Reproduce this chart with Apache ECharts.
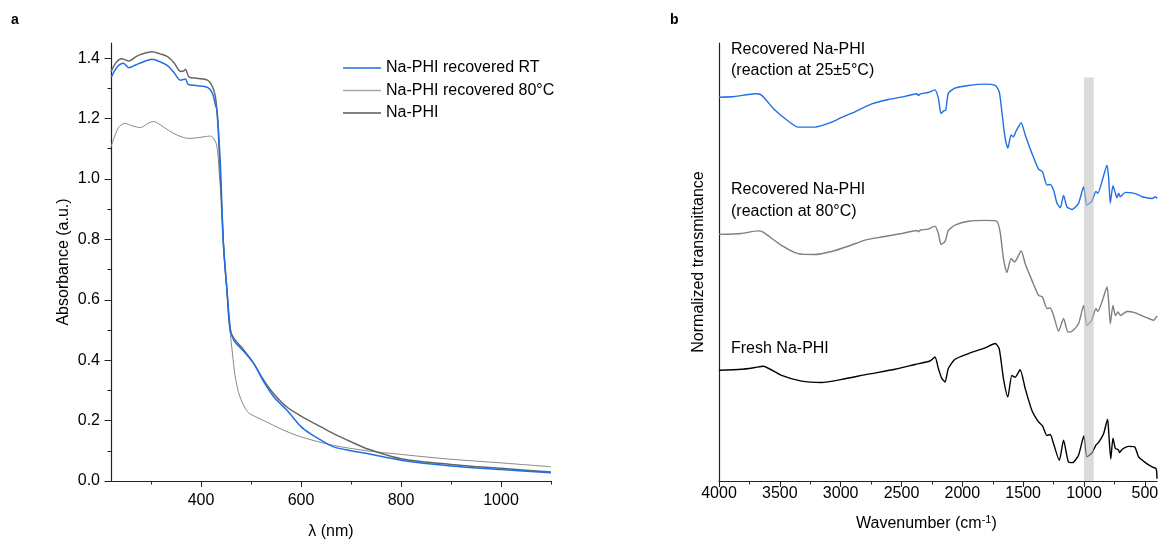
<!DOCTYPE html>
<html>
<head>
<meta charset="utf-8">
<script src="https://cdn.jsdelivr.net/npm/echarts@6/dist/echarts.min.js"></script>
<style>html,body{margin:0;padding:0;background:#fff;}#c{width:1162px;height:540px;}</style>
</head>
<body>
<div id="c"></div>
<script>
// ---------- Panel a: UV-vis absorbance [wavelength nm, absorbance] ----------
const uvRT = [[220,1.335],[232,1.37],[245,1.383],[256,1.368],[270,1.378],[285,1.388],[302,1.396],[318,1.388],[333,1.375],[346,1.352],[359,1.327],[369,1.331],[374,1.313],[390,1.309],[413,1.303],[423,1.283],[429,1.244],[432,1.228],[436,1.13],[439,1.04],[445,0.78],[452,0.63],[459,0.5],[466,0.465],[485,0.43],[505,0.39],[525,0.33],[545,0.28],[572,0.234],[600,0.18],[620,0.155],[640,0.135],[665,0.113],[700,0.10],[732,0.091],[800,0.069],[900,0.05],[1000,0.038],[1100,0.027]];
const uv80 = [[220,1.106],[235,1.17],[248,1.184],[262,1.176],[279,1.17],[293,1.183],[305,1.19],[325,1.172],[345,1.151],[360,1.14],[375,1.134],[392,1.136],[408,1.14],[419,1.142],[429,1.123],[433,1.095],[437,1.01],[441,0.93],[446,0.76],[452,0.62],[458,0.50],[463,0.42],[468,0.35],[474,0.30],[480,0.27],[487,0.245],[495,0.226],[510,0.212],[532,0.195],[560,0.172],[600,0.146],[665,0.118],[732,0.10],[800,0.088],[900,0.072],[1000,0.06],[1100,0.047]];
const uvFresh = [[220,1.355],[230,1.385],[241,1.398],[256,1.39],[270,1.405],[285,1.415],[302,1.421],[318,1.414],[333,1.405],[346,1.385],[359,1.356],[366,1.358],[369,1.363],[376,1.338],[392,1.333],[413,1.327],[423,1.305],[429,1.27],[433,1.2],[436,1.11],[440,0.95],[445,0.78],[452,0.63],[458,0.5],[466,0.472],[485,0.435],[505,0.39],[525,0.335],[545,0.29],[572,0.245],[600,0.215],[640,0.179],[665,0.157],[700,0.130],[732,0.107],[800,0.074],[900,0.055],[1000,0.042],[1100,0.03]];

// ---------- Panel b: FTIR normalized transmittance (offset) [wavenumber, value] ----------
const irRT = [[4000,87.6],[3870,87.8],[3706,88.4],[3651,88.1],[3541,84.7],[3432,82.2],[3350,80.8],[3212,80.8],[3075,81.9],[2992,83.0],[2883,84.3],[2745,86.1],[2609,87.1],[2471,87.8],[2375,88.4],[2360,88.0],[2345,88.4],[2280,88.7],[2225,89.3],[2197,87.4],[2175,83.9],[2153,84.5],[2136,84.7],[2115,88.5],[2060,89.7],[1950,90.3],[1813,90.6],[1730,90.3],[1697,88.9],[1675,84.3],[1648,78.2],[1626,76.0],[1599,79.0],[1580,78.6],[1560,79.8],[1516,81.8],[1483,79.0],[1428,74.8],[1374,71.2],[1341,70.6],[1305,67.6],[1278,67.7],[1250,66.4],[1222,63.4],[1195,62.4],[1168,65.2],[1140,62.6],[1099,62.0],[1045,63.4],[1003,67.2],[976,63.0],[935,63.9],[902,66.1],[886,65.7],[852,68.4],[811,72.1],[797,69.1],[784,63.4],[762,67.4],[742,65.7],[729,64.7],[715,65.7],[701,64.9],[660,65.9],[578,65.6],[523,64.9],[440,64.5],[413,64.9],[400,64.5]];
const ir80 = [[4000,56.3],[3818,56.5],[3679,57.1],[3638,56.8],[3486,53.8],[3350,51.9],[3212,51.7],[3075,52.4],[2938,53.6],[2800,55.0],[2663,55.7],[2498,56.5],[2375,57.2],[2360,56.9],[2345,57.3],[2280,57.5],[2225,58.2],[2197,56.5],[2175,54.0],[2142,54.7],[2115,57.2],[2060,58.4],[1950,59.3],[1813,59.5],[1717,59.3],[1689,56.8],[1662,50.8],[1634,47.6],[1599,50.8],[1571,50.0],[1516,52.5],[1483,49.6],[1428,45.8],[1374,42.4],[1341,42.0],[1305,39.4],[1278,39.5],[1250,37.8],[1209,34.2],[1168,37.1],[1132,34.0],[1099,34.2],[1045,35.9],[1003,40.1],[976,35.5],[935,36.8],[902,39.4],[886,38.7],[852,40.9],[811,44.3],[797,40.9],[784,35.9],[762,40.1],[742,37.8],[720,38.6],[701,37.8],[646,38.7],[578,38.4],[496,37.4],[427,36.7],[400,37.7]];
const irFresh = [[4000,25.3],[3818,25.5],[3706,25.9],[3638,26.2],[3486,24.1],[3322,22.8],[3157,22.5],[2992,23.2],[2773,24.4],[2554,25.5],[2389,26.6],[2266,27.4],[2225,28.3],[2197,25.7],[2170,23.5],[2142,22.6],[2115,25.7],[2060,27.8],[1950,29.1],[1813,30.4],[1730,31.4],[1697,30.2],[1662,23.4],[1626,19.2],[1593,24.1],[1566,23.7],[1525,25.4],[1483,21.1],[1428,16.1],[1374,13.5],[1341,12.6],[1305,10.4],[1278,10.6],[1250,8.5],[1203,4.7],[1168,9.3],[1127,4.3],[1094,4.2],[1045,5.9],[1001,10.3],[976,5.5],[935,6.4],[902,8.2],[880,8.8],[839,10.8],[806,14.1],[797,11.2],[780,5.0],[762,9.8],[742,7.4],[720,7.2],[707,6.5],[688,7.2],[633,7.9],[584,7.8],[551,5.5],[496,4.2],[440,3.2],[407,2.8],[400,0.5]];
const bandRange = [1000, 920];
const bandTop = 92.1;

// ---------- ticks ----------
const aXMajor = [400, 600, 800, 1000];
const aXMinor = [300, 500, 700, 900, 1100];
const aYMajor = [0, 0.2, 0.4, 0.6, 0.8, 1.0, 1.2, 1.4];
const aYMinor = [0.1, 0.3, 0.5, 0.7, 0.9, 1.1, 1.3];
const bXMajor = [4000, 3500, 3000, 2500, 2000, 1500, 1000, 500];
const bXMinor = [3750, 3250, 2750, 2250, 1750, 1250, 750];

const names = ['Na-PHI recovered RT', 'Na-PHI recovered 80\u00B0C', 'Na-PHI'];
const FONT = '"Liberation Sans", Arial, sans-serif';
const AX = '#222';

const chart = echarts.init(document.getElementById('c'), null, {renderer: 'canvas'});

function xAx(grid, min, max, inverse, major, minor, isMajor, name, nameGap, margin) {
  return {
    type: 'value', gridIndex: grid, min: min, max: max, inverse: inverse,
    position: 'bottom',
    name: isMajor ? name : '', nameLocation: 'middle', nameGap: nameGap,
    nameTextStyle: {fontFamily: FONT, fontSize: 16, color: '#000'},
    axisLine: {show: isMajor, lineStyle: {color: AX, width: 1.2}},
    axisTick: {show: true, inside: false, length: isMajor ? 6 : 3.5, customValues: isMajor ? major : minor, lineStyle: {color: AX, width: 1}},
    axisLabel: {show: isMajor, customValues: major, margin: margin, fontFamily: FONT, fontSize: 16, color: '#000', formatter: v => String(v)},
    splitLine: {show: false}
  };
}

const option = {
  animation: false,
  backgroundColor: '#fff',
  grid: [
    {left: 111, top: 43, width: 440, height: 438, containLabel: false, outerBoundsMode: 'none'},
    {left: 719, top: 43, width: 438, height: 438, containLabel: false, outerBoundsMode: 'none'}
  ],
  xAxis: [
    xAx(0, 220, 1100, false, aXMajor, aXMinor, true, '\u03BB (nm)', 43, 12),
    xAx(0, 220, 1100, false, aXMajor, aXMinor, false, '', 0, 0),
    xAx(1, 400, 4000, true, bXMajor, bXMinor, true, '', 0, 5),
    xAx(1, 400, 4000, true, bXMajor, bXMinor, false, '', 0, 0)
  ],
  yAxis: [
    {
      type: 'value', gridIndex: 0, min: 0, max: 1.45, position: 'left',
      name: 'Absorbance (a.u.)', nameLocation: 'middle', nameGap: 39,
      nameTextStyle: {fontFamily: FONT, fontSize: 16, color: '#000'},
      axisLine: {show: true, lineStyle: {color: AX, width: 1.2}},
      axisTick: {show: true, length: 6.5, customValues: aYMajor, lineStyle: {color: AX}},
      axisLabel: {customValues: aYMajor, margin: 11, fontFamily: FONT, fontSize: 16, color: '#000', formatter: v => v.toFixed(1)},
      splitLine: {show: false}
    },
    {
      type: 'value', gridIndex: 0, min: 0, max: 1.45, position: 'left',
      axisLine: {show: false},
      axisTick: {show: true, length: 3.5, customValues: aYMinor, lineStyle: {color: AX}},
      axisLabel: {show: false},
      splitLine: {show: false}
    },
    {
      type: 'value', gridIndex: 1, min: 0, max: 100, position: 'left',
      name: 'Normalized transmittance', nameLocation: 'middle', nameGap: 12,
      nameTextStyle: {fontFamily: FONT, fontSize: 16, color: '#000'},
      axisLine: {show: true, lineStyle: {color: AX, width: 1.2}},
      axisTick: {show: false}, axisLabel: {show: false}, splitLine: {show: false}
    }
  ],
  legend: {
    left: 338, top: 55, orient: 'vertical', itemWidth: 38, itemHeight: 1.6, itemGap: 6.5,
    icon: 'rect',
    data: names,
    textStyle: {fontFamily: FONT, fontSize: 16, color: '#000'}
  },
  graphic: [
    {type: 'text', left: 11, top: 13, style: {text: 'a', font: 'bold 14px ' + FONT, fill: '#000'}},
    {type: 'text', left: 670, top: 13, style: {text: 'b', font: 'bold 14px ' + FONT, fill: '#000'}},
    {type: 'text', left: 731, top: 42, style: {text: 'Recovered Na-PHI', font: '16px ' + FONT, fill: '#000'}},
    {type: 'text', left: 731, top: 63, style: {text: '(reaction at 25\u00B15\u00B0C)', font: '16px ' + FONT, fill: '#000'}},
    {type: 'text', left: 731, top: 182, style: {text: 'Recovered Na-PHI', font: '16px ' + FONT, fill: '#000'}},
    {type: 'text', left: 731, top: 204, style: {text: '(reaction at 80\u00B0C)', font: '16px ' + FONT, fill: '#000'}},
    {type: 'text', left: 731, top: 341, style: {text: 'Fresh Na-PHI', font: '16px ' + FONT, fill: '#000'}},
    {type: 'text', left: 856, top: 514, style: {
      text: '{n|Wavenumber (cm}{s|-1}{n|)}',
      rich: {n: {fontFamily: FONT, fontSize: 16, fill: '#000'}, s: {fontFamily: FONT, fontSize: 11, fill: '#000', verticalAlign: 'top', padding: [0,0,8,0]}}
    }}
  ],
  series: [
    {name: names[1], type: 'line', xAxisIndex: 0, yAxisIndex: 0, data: uv80, symbol: 'none', smooth: 0.3,
      lineStyle: {color: '#8a8a8a', width: 1}, itemStyle: {color: '#a8a8a8'}},
    {name: names[2], type: 'line', xAxisIndex: 0, yAxisIndex: 0, data: uvFresh, symbol: 'none', smooth: 0.3,
      lineStyle: {color: '#666666', width: 1.5}, itemStyle: {color: '#595959'}},
    {name: names[0], type: 'line', xAxisIndex: 0, yAxisIndex: 0, data: uvRT, symbol: 'none', smooth: 0.3,
      lineStyle: {color: '#1f6fe5', width: 1.5}, itemStyle: {color: '#1f6fe5'}},
    {type: 'line', xAxisIndex: 2, yAxisIndex: 2, data: irRT, symbol: 'none', smooth: 0.2,
      lineStyle: {color: '#1f6fe5', width: 1.4}},
    {type: 'line', xAxisIndex: 2, yAxisIndex: 2, data: ir80, symbol: 'none', smooth: 0.2,
      lineStyle: {color: '#7f7f7f', width: 1.4}},
    {type: 'line', xAxisIndex: 2, yAxisIndex: 2, data: irFresh, symbol: 'none', smooth: 0.2,
      lineStyle: {color: '#000000', width: 1.4}},
    {type: 'line', xAxisIndex: 2, yAxisIndex: 2, data: [], z: 10,
      markArea: {silent: true, z: 10, itemStyle: {color: 'rgba(190,190,190,0.55)'},
        data: [[{xAxis: bandRange[0], yAxis: 0}, {xAxis: bandRange[1], yAxis: bandTop}]]}}
  ]
};
chart.setOption(option);
</script>
</body>
</html>
